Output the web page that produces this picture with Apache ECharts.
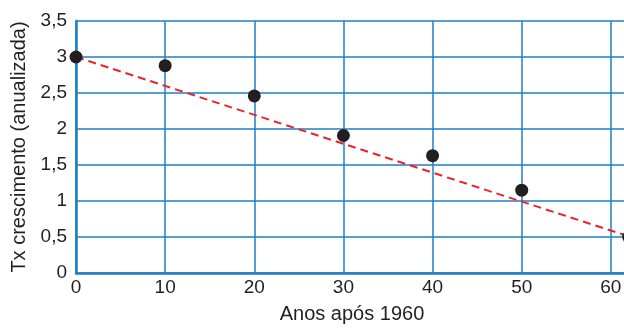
<!DOCTYPE html>
<html>
<head>
	<meta charset="UTF-8">
	<title></title>
	<style>
		html, body { margin: 0; padding: 0; background: #fff; }
		#chart1 { width: 624px; height: 329px; }
	</style>
	<script src="https://cdn.jsdelivr.net/npm/echarts@6/dist/echarts.min.js"></script>
</head>
<body>
	<div id="chart1"></div>
	<script>
		// anos após 1960 e taxa de crescimento
		var anos = [0, 10, 20, 30, 40, 50, 62];
		var taxa = [3.0, 2.88, 2.46, 1.91, 1.63, 1.15, 0.5];
		// reta de tendência (extremos)
		var tendencia = [[0, 3.0], [62, 0.51]];

		var pontos = anos.map(function (a, i) { return [a, taxa[i]]; });

		var azul = '#1f7fc4';
		var texto = '#231f20';
		var myChart = echarts.init(document.getElementById('chart1'));
		myChart.setOption({
			animation: false,
			// a grade continua para lá da borda direita (até 70)
			grid: { left: 76, top: 21, height: 252, width: 624, containLabel: false, outerBoundsMode: 'none' },
			xAxis: {
				type: 'value',
				min: 0, max: 70, interval: 10,
				name: 'Anos após 1960',
				nameLocation: 'middle',
				nameGap: 31,
				// puxa o título para o centro da parte visível
				nameTextStyle: { fontFamily: 'Liberation Sans', fontSize: 20, color: texto, padding: [0, 72, 0, 0] },
				axisLine: { show: true, onZero: false, lineStyle: { color: azul, width: 2.5 } },
				axisTick: { show: false },
				axisLabel: { fontFamily: 'Liberation Sans', fontSize: 19, color: texto, margin: 5 },
				splitLine: { show: true, lineStyle: { color: azul, width: 1.5 } }
			},
			yAxis: {
				type: 'value',
				min: 0, max: 3.5, interval: 0.5,
				name: 'Tx crescimento (anualizada)',
				nameLocation: 'middle',
				nameGap: 44,
				nameTextStyle: { fontFamily: 'Liberation Sans', fontSize: 20, color: texto },
				axisLine: { show: true, lineStyle: { color: azul, width: 2.5 } },
				axisTick: { show: false },
				axisLabel: {
					fontFamily: 'Liberation Sans', fontSize: 19, color: texto, margin: 9,
					formatter: function (v) { return String(v).replace('.', ','); }
				},
				splitLine: { show: true, lineStyle: { color: azul, width: 1.5 } }
			},
			series: [
				{
					type: 'line',
					data: tendencia,
					symbol: 'none',
					lineStyle: { color: '#e8232a', width: 2, type: [8, 5] },
					z: 3
				},
				{
					type: 'scatter',
					data: pontos,
					symbolSize: 13,
					itemStyle: { color: texto, opacity: 1 },
					z: 4
				}
			]
		});
	</script>
</body>
</html>
